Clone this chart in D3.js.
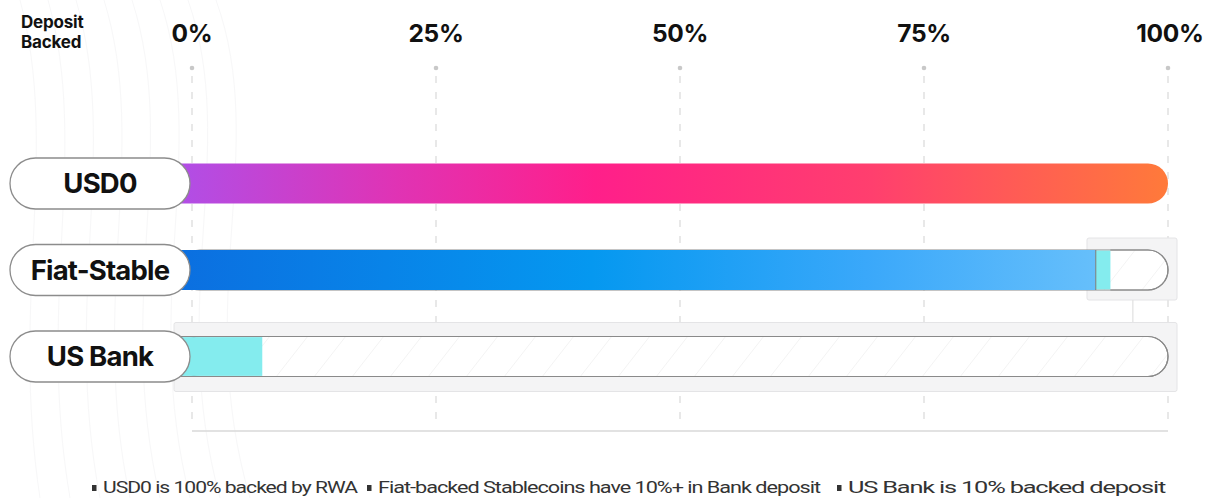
<!DOCTYPE html>
<html><head><meta charset="utf-8">
<script src="https://cdn.jsdelivr.net/npm/d3@7"></script>
<style>
html,body{margin:0;padding:0;background:#fff;}
svg{display:block;}
</style></head>
<body>
<svg id="chart" width="1208" height="498"></svg>
<script>
const categories = ["USD0", "Fiat-Stable", "US Bank"];
const mainValues = [100, 92.6, 0];      // main backing segment (%)
const depositValues = [0, 1.5, 7.2];    // bank deposit segment (%)
const tickValues = [0, 25, 50, 75, 100];
const tickLabels = ["0%", "25%", "50%", "75%", "100%"];
const notes = ["USD0 is 100% backed by RWA", "Fiat-backed Stablecoins have 10%+ in Bank deposit", "US Bank is 10% backed deposit"];

const svg = d3.select("#chart");
const x = d3.scaleLinear().domain([0, 100]).range([192, 1168]);
const yc = d3.scalePoint().domain(categories).range([183.5, 356.5]);
const bh = 40;
const y = c => yc(c) - bh/2;
const r = bh/2;
const font = "Inter, 'Noto Sans', Arial, sans-serif";

const defs = svg.append("defs");
const g1 = defs.append("linearGradient").attr("id","gUSD").attr("x1","0%").attr("x2","100%");
[["0%","#b14ee6"],["22%","#e033b4"],["42%","#ff1f8a"],["70%","#ff3f6e"],["100%","#ff7a3a"]].forEach(s=>g1.append("stop").attr("offset",s[0]).attr("stop-color",s[1]));
const g2 = defs.append("linearGradient").attr("id","gFiat").attr("x1","0%").attr("x2","100%");
[["0%","#0b6fe0"],["45%","#0598f0"],["75%","#3aa8fa"],["100%","#66bffb"]].forEach(s=>g2.append("stop").attr("offset",s[0]).attr("stop-color",s[1]));
const hatch = defs.append("pattern").attr("id","hatch").attr("patternUnits","userSpaceOnUse").attr("width",38).attr("height",40).attr("patternTransform","skewX(-38)");
hatch.append("rect").attr("width",38).attr("height",40).attr("fill","#fff");
hatch.append("line").attr("x1",0).attr("x2",0).attr("y1",0).attr("y2",40).attr("stroke","#e8e8e8").attr("stroke-width",1);

// faint background decoration curves
const deco = svg.append("g").attr("fill","none").attr("stroke","#f7f7f8").attr("stroke-width",1);
d3.range(8).forEach(i=>{
  deco.append("path").attr("d",`M${20+i*28},0 C${60+i*30},150 ${10+i*26},300 ${40+i*30},498`);
});

// "Deposit Backed" label
svg.append("text").attr("x",21).attr("y",28).attr("font-family",font).attr("font-weight",700).attr("font-size",17).attr("letter-spacing",-0.2).attr("fill","#111").text("Deposit");
svg.append("text").attr("x",21).attr("y",48).attr("font-family",font).attr("font-weight",700).attr("font-size",17).attr("letter-spacing",-0.2).attr("fill","#111").text("Backed");

// tick labels
svg.append("g").selectAll("text").data(tickValues).join("text")
  .attr("x",(d,i)=> i===4 ? x(d)+2 : x(d)).attr("y",42).attr("text-anchor","middle")
  .attr("font-family",font).attr("font-weight",700).attr("font-size",24.5).attr("letter-spacing",-0.3).attr("fill","#111")
  .text((d,i)=>tickLabels[i]);

// markers + dashed gridlines
const grid = svg.append("g");
grid.selectAll("circle.m").data(tickValues).join("circle").attr("class","m")
  .attr("cx",d=>x(d)).attr("cy",68).attr("r",2.3).attr("fill","#c8c8c8");
grid.selectAll("line.g").data(tickValues).join("line").attr("class","g")
  .attr("x1",d=>x(d)).attr("x2",d=>x(d)).attr("y1",76).attr("y2",428)
  .attr("stroke","#d9d9d9").attr("stroke-width",1.2).attr("stroke-dasharray","7 9");
svg.append("line").attr("x1",x(0)).attr("x2",x(100)).attr("y1",431).attr("y2",431).attr("stroke","#d8d8d8").attr("stroke-width",1.5);

// gray boxes behind empty portions
svg.append("rect").attr("x",x(91.7)).attr("y",y("Fiat-Stable")-12).attr("width",x(100)-x(91.7)+9).attr("height",bh+22)
  .attr("fill","#f4f4f5").attr("stroke","#e4e4e6").attr("rx",2);
svg.append("line").attr("x1",x(96.4)).attr("x2",x(96.4)).attr("y1",y("Fiat-Stable")+bh+10).attr("y2",y("US Bank")-14).attr("stroke","#e0e0e0").attr("stroke-width",1.2);
svg.append("rect").attr("x",174).attr("y",y("US Bank")-14).attr("width",x(100)+9-174).attr("height",bh+29)
  .attr("fill","#f4f4f5").attr("stroke","#e4e4e6").attr("rx",2);

const rows = categories.map((c,i)=>({c, m: mainValues[i], d: depositValues[i]}));
// track (empty remainder)
rows.filter(d=>d.m + d.d < 100).forEach(d=>{
  svg.append("rect").attr("x",x(0)-12).attr("y",y(d.c)).attr("width",x(100)-x(0)+12).attr("height",bh)
    .attr("rx",r).attr("fill","url(#hatch)").attr("stroke","#8a8a8a").attr("stroke-width",1.2);
});

// main segments
rows.filter(d=>d.m>0).forEach(d=>{
  const x0 = x(0)-12, x1 = x(d.m);
  if (d.m >= 100) {
    svg.append("path").attr("d",`M${x0},${y(d.c)} H${x1-r} A${r},${r} 0 0 1 ${x1-r},${y(d.c)+bh} H${x0} Z`)
      .attr("fill","url(#gUSD)");
  } else {
    svg.append("rect").attr("x",x0).attr("y",y(d.c)).attr("width",x1-x0).attr("height",bh).attr("fill","url(#gFiat)");
  }
});
// deposit segments
rows.filter(d=>d.d>0).forEach(d=>{
  const start = d.m>0 ? x(d.m) : x(0)-12;
  svg.append("rect").attr("x",start).attr("y",y(d.c)+0.6).attr("width",x(d.m+d.d)-start).attr("height",bh-1.2)
    .attr("fill","#84ecee");
  if (d.m>0) svg.append("line").attr("x1",start).attr("x2",start).attr("y1",y(d.c)).attr("y2",y(d.c)+bh).attr("stroke","#7a7a7a").attr("stroke-width",1);
});
// outlines of tracks on top
rows.filter(d=>d.m + d.d < 100).forEach(d=>{
  const x1 = x(100);
  svg.append("path").attr("d",`M${x(d.m+d.d)},${y(d.c)} H${x1-r} A${r},${r} 0 0 1 ${x1-r},${y(d.c)+bh} H${x(d.m+d.d)}`)
    .attr("fill","none").attr("stroke","#8a8a8a").attr("stroke-width",1.2);
  if (d.m===0) svg.append("path").attr("d",`M${x(0)-12},${y(d.c)} H${x(d.d)} M${x(0)-12},${y(d.c)+bh} H${x(d.d)}`).attr("stroke","#8a8a8a").attr("stroke-width",1.2);
});

// category label pills
const pill = svg.append("g").selectAll("g").data(categories).join("g")
  .attr("transform",c=>`translate(10,${yc(c)})`);
pill.append("rect").attr("x",0).attr("y",-25.5).attr("width",180).attr("height",51).attr("rx",25.5)
  .attr("fill","#fff").attr("stroke","#8c8c8c").attr("stroke-width",1.3);
pill.append("text").attr("x",90).attr("y",9.5).attr("text-anchor","middle")
  .attr("font-family",font).attr("font-weight",700).attr("font-size",27.5).attr("letter-spacing",-0.8).attr("fill","#111").text(c=>c);

// notes
const noteX = [92, 367, 837];
const noteW = [254, 442, 317];
const ng = svg.append("g");
notes.forEach((t,i)=>{
  ng.append("rect").attr("x",noteX[i]).attr("y",485).attr("width",4.5).attr("height",6).attr("fill","#333");
  ng.append("text").attr("x",noteX[i]+11).attr("y",493).attr("font-family","Roboto, 'Noto Sans', sans-serif")
    .attr("font-size",17).attr("letter-spacing",-0.8).attr("fill","#333").attr("textLength",noteW[i]).attr("lengthAdjust","spacingAndGlyphs").text(t);
});
</script>
</body></html>
